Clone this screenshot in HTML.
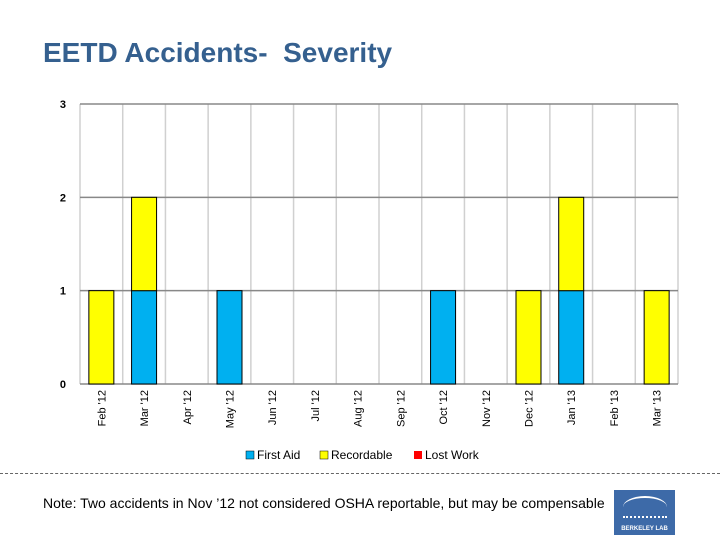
<!DOCTYPE html>
<html><head><meta charset="utf-8"><style>
body{margin:0;width:720px;height:540px;background:#fff;overflow:hidden;font-family:"Liberation Sans",sans-serif;position:relative}
</style></head><body>
<div style="position:absolute;left:43px;top:37px;font-size:28px;font-weight:bold;color:#35608f;white-space:nowrap">EETD Accidents-&nbsp; Severity</div>
<svg id="c" width="720" height="540" style="position:absolute;left:0;top:0"></svg>
<div style="position:absolute;left:0;top:473px;width:720px;border-top:1px dashed #666"></div>
<div style="position:absolute;left:43px;top:495px;font-size:14px;color:#000;white-space:nowrap">Note: Two accidents in Nov ’12 not considered OSHA reportable, but may be compensable</div>
<div style="position:absolute;left:614px;top:490px;width:61px;height:45px;background:#3d6aa8;color:#fff;font-size:6px;font-weight:bold;text-align:center">
<div style="margin:6px auto 0;width:44px;height:18px;border-top:2px solid #fff;border-radius:50% 50% 0 0;border-bottom:2px dotted #fff"></div>
<div style="margin-top:8px">BERKELEY LAB</div></div>
<script>
const categories=["Feb '12","Mar '12","Apr '12","May '12","Jun '12","Jul '12","Aug '12","Sep '12","Oct '12","Nov '12","Dec '12","Jan '13","Feb '13","Mar '13"];
const firstAid=[0,1,0,1,0,0,0,0,1,0,0,1,0,0];
const recordable=[1,1,0,0,0,0,0,0,0,0,1,1,0,1];
const lostWork=[0,0,0,0,0,0,0,0,0,0,0,0,0,0];
const yTicks=[0,1,2,3];
const svg=document.getElementById('c');const NS='http://www.w3.org/2000/svg';
const L=80,R=678,T=104,B=384,yMax=3;
const cw=(R-L)/categories.length;
const y=v=>B-(v/yMax)*(B-T);
function mk(t,a,p){const e=document.createElementNS(NS,t);for(const k in a)e.setAttribute(k,a[k]);(p||svg).appendChild(e);return e;}
for(let i=0;i<=categories.length;i++){const l=mk('line',{x1:L+i*cw,x2:L+i*cw,y1:T,y2:B,stroke:'#d0d0d0','stroke-width':1.5});

}
yTicks.forEach(v=>{const l=mk('line',{x1:L,x2:R,y1:y(v),y2:y(v),stroke:'#888','stroke-width':1.5});


const t=mk('text',{x:66,y:y(v)+4,'text-anchor':'end','font-size':11,'font-weight':'bold'});t.textContent=v;

});
const bw=25;
categories.forEach((c,i)=>{const cx=L+cw*(i+0.5);let base=0;
[[firstAid,'#00b0f0','bar-first-aid'],[recordable,'#ffff00','bar-recordable'],[lostWork,'#ff0000','bar-lost-work']].forEach(([arr,col,nm])=>{const v=arr[i];if(v>0){const r=mk('rect',{x:cx-bw/2,y:y(base+v),width:bw,height:y(base)-y(base+v),fill:col,stroke:'#000','stroke-width':1});

}base+=v;});
const t=mk('text',{transform:`translate(${cx+4},${B+6}) rotate(-90)`,'text-anchor':'end','font-size':11});t.textContent=c;

});
const leg=[['First Aid','#00b0f0',246],['Recordable','#ffff00',320],['Lost Work','#ff0000',414]];
leg.forEach(([n,c,x])=>{const g=mk('g',{});


mk('rect',{x:x,y:451,width:8,height:8,fill:c,stroke:c=='#ff0000'?'none':'#000','stroke-width':0.5},g);
const t=mk('text',{x:x+11,y:459,'font-size':12},g);t.textContent=n;});
</script>
</body></html>
